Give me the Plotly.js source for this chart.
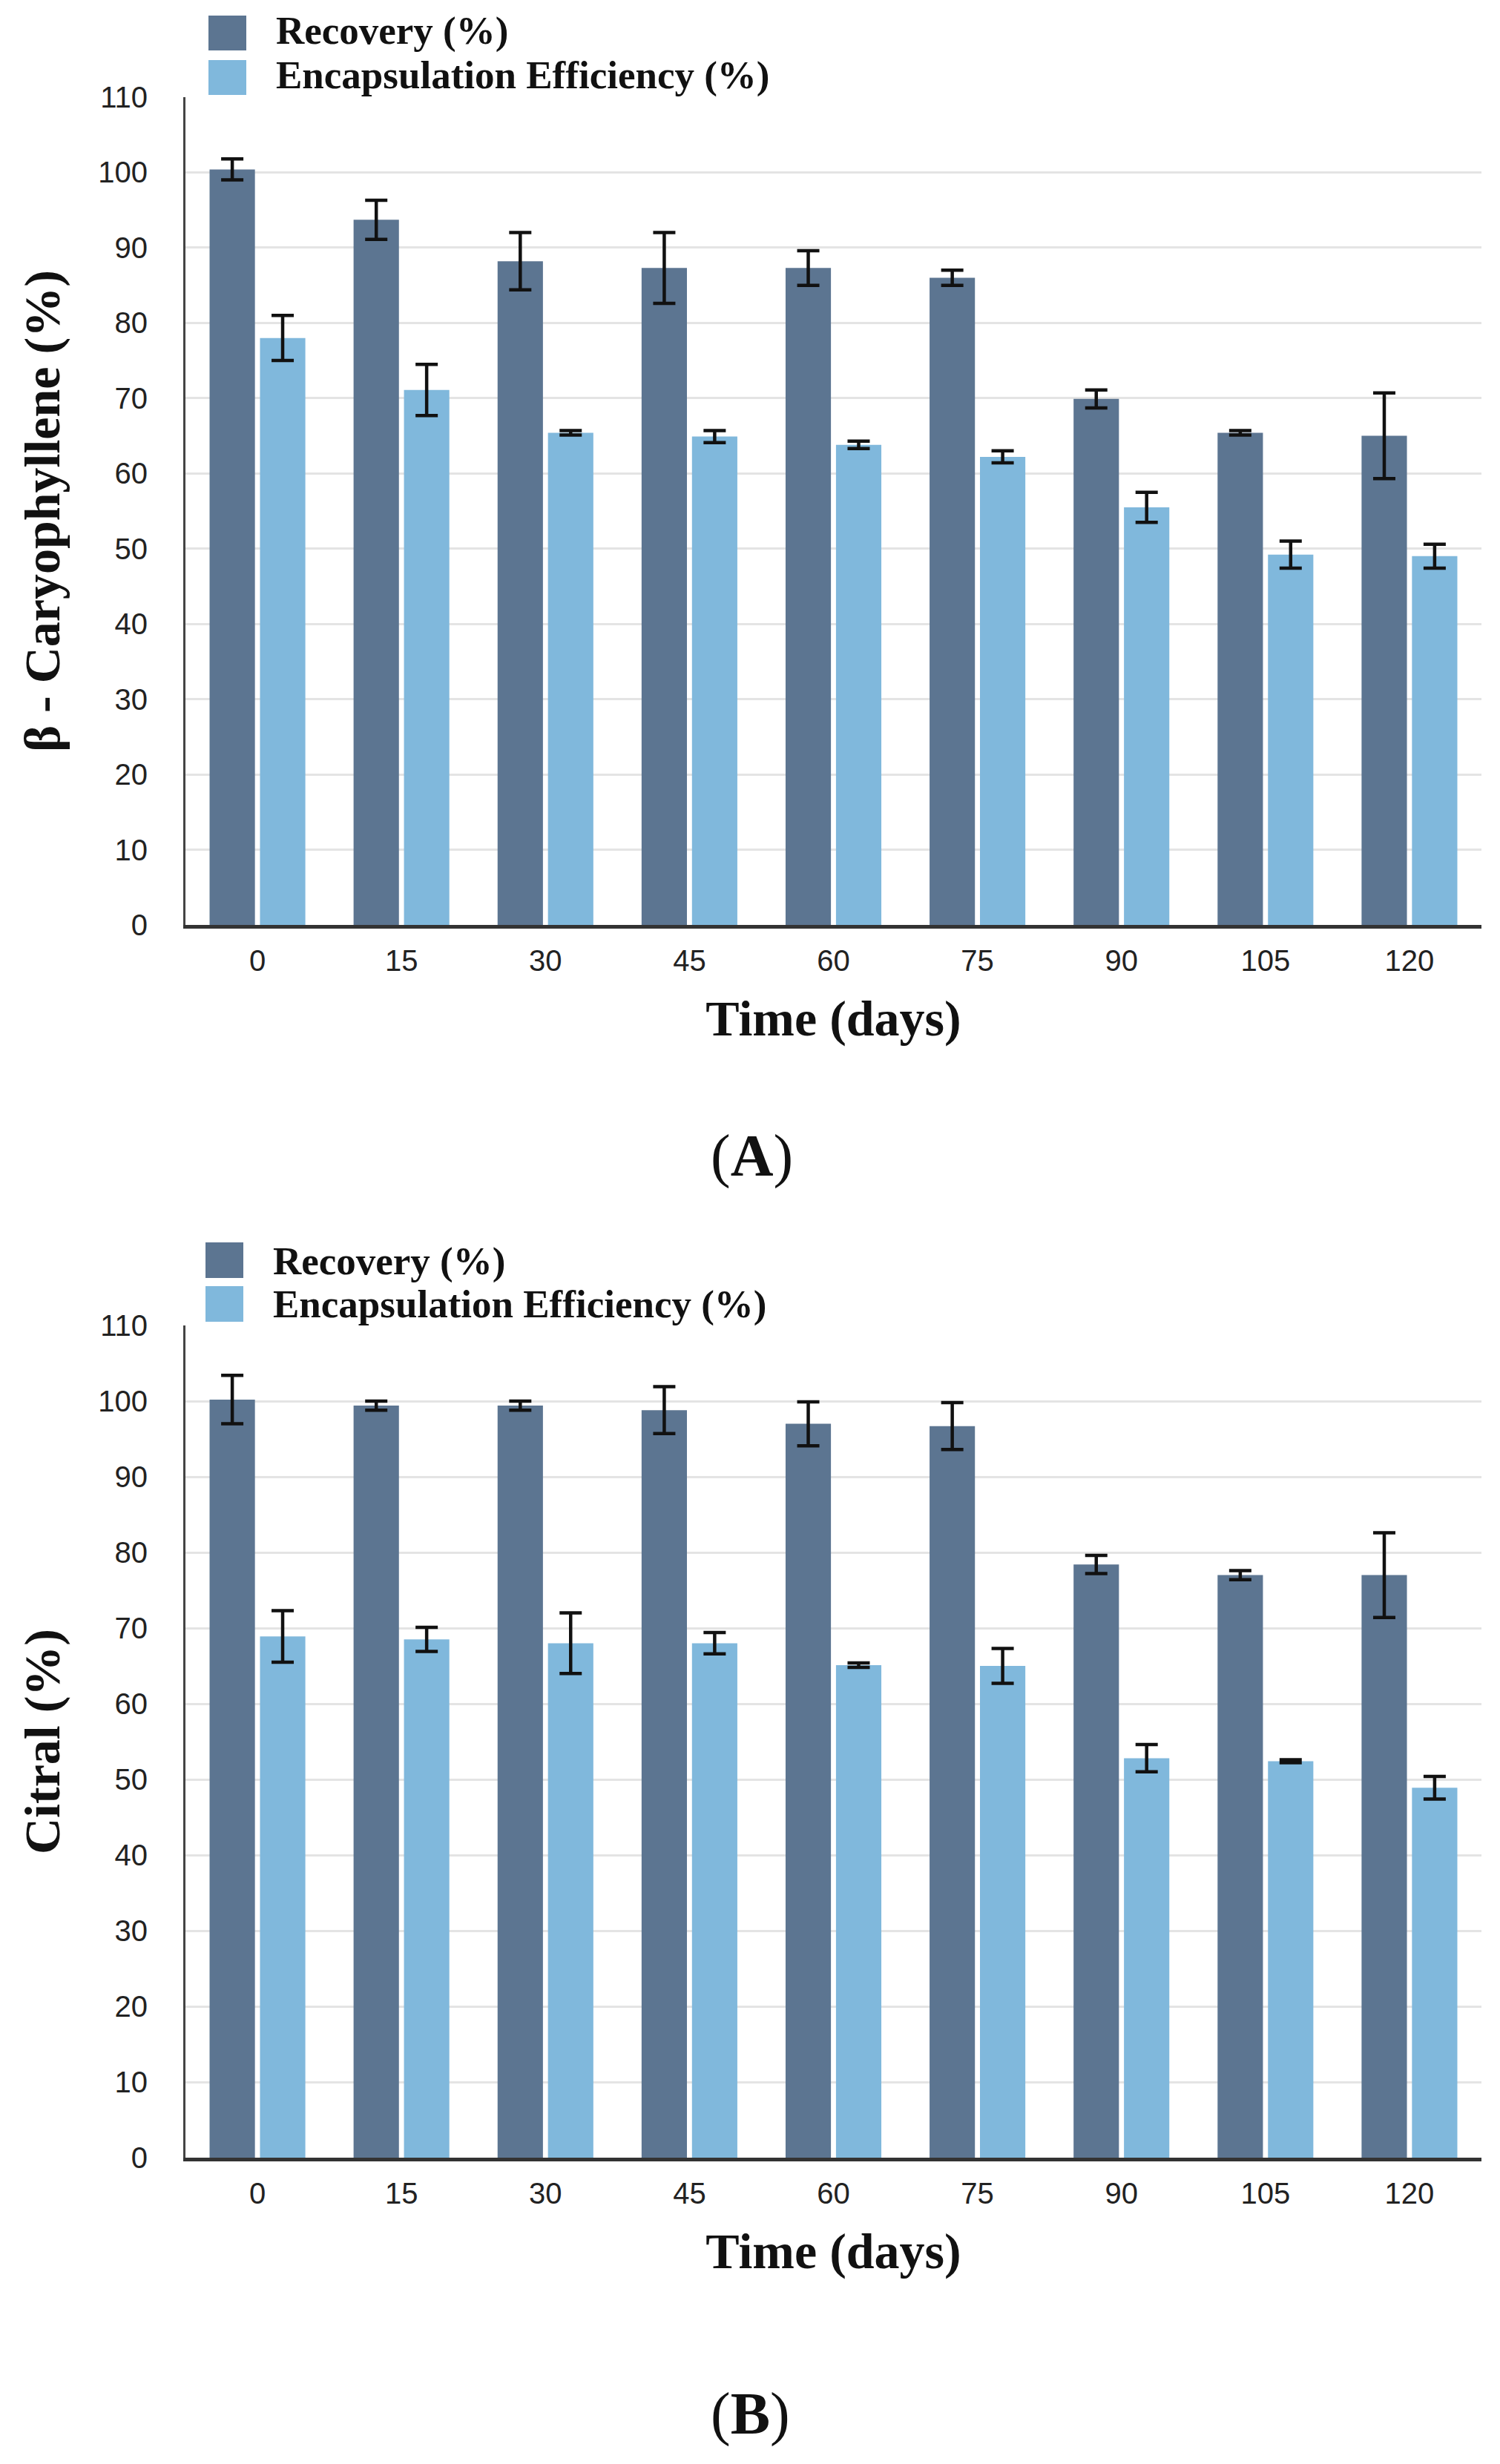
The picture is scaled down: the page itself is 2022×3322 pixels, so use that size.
<!DOCTYPE html>
<html><head><meta charset="utf-8">
<script src="https://cdn.plot.ly/plotly-3.0.1.min.js"></script>
<style>html,body{margin:0;padding:0;background:#fff}#chart{width:2022px;height:3322px}</style>
</head><body><div id="chart"></div><script>
// ---- data ----
const days = ['0','15','30','45','60','75','90','105','120'];
const seriesNames = ['Recovery (%)','Encapsulation Efficiency (%)'];
const seriesColors = ['#5c7591','#80b8dc'];
// Panel A: beta-caryophyllene
const caryRecovery    = [100.4, 93.7, 88.2, 87.3, 87.3, 86.0, 69.9, 65.4, 65.0];
const caryRecoveryErr = [1.4, 2.6, 3.8, 4.7, 2.3, 1.0, 1.2, 0.3, 5.7];
const caryEE          = [78.0, 71.1, 65.4, 64.9, 63.8, 62.2, 55.5, 49.2, 49.0];
const caryEEErr       = [3.0, 3.4, 0.3, 0.8, 0.5, 0.8, 2.0, 1.8, 1.6];
// Panel B: citral
const citralRecovery    = [100.2, 99.4, 99.4, 98.8, 97.0, 96.7, 78.4, 77.0, 77.0];
const citralRecoveryErr = [3.2, 0.6, 0.6, 3.1, 2.9, 3.1, 1.2, 0.6, 5.6];
const citralEE          = [68.9, 68.5, 68.0, 68.0, 65.1, 65.0, 52.8, 52.4, 48.9];
const citralEEErr       = [3.4, 1.6, 4.0, 1.4, 0.3, 2.3, 1.8, 0.2, 1.5];
const yTitles = ['β - Caryophyllene (%)', 'Citral (%)'];
const xTitle = 'Time (days)';
const panelLabels = ['A', 'B'];

// ---- layout helpers ----
const W = 2022, H = 3322, L = 250, R = 1997;
const px = x => (x - L) / (R - L);
const py = y => 1 - y / H;
const serif = 'Liberation Serif, Times New Roman, serif';
const sans = 'Liberation Sans, Arial, sans-serif';
const tickFont = {family: sans, size: 40, color: '#222'};
const titleFont = {family: serif, size: 68, weight: 700, color: '#111'};

function barTrace(vals, errs, idx, ax) {
  return {
    type: 'bar', x: days, y: vals, name: seriesNames[idx],
    marker: {color: seriesColors[idx], line: {width: 0}},
    error_y: {type: 'data', array: errs, visible: true, color: '#111', thickness: 4.5, width: 15},
    xaxis: 'x' + ax, yaxis: 'y' + ax, showlegend: false, hoverinfo: 'y'
  };
}

const data = [
  barTrace(caryRecovery, caryRecoveryErr, 0, ''),
  barTrace(caryEE, caryEEErr, 1, ''),
  barTrace(citralRecovery, citralRecoveryErr, 0, '2'),
  barTrace(citralEE, citralEEErr, 1, '2')
];

function xAxis(anchor) {
  return {
    anchor: anchor, domain: [0, 1], type: 'category', range: [-0.5, 8.5],
    showline: true, linecolor: '#333', linewidth: 5, ticks: '', ticklabelstandoff: 9,
    tickfont: tickFont, showgrid: false, zeroline: false, automargin: false,
    title: {text: xTitle, font: titleFont, standoff: 34}
  };
}
function yAxis(anchor, domain, title) {
  return {
    anchor: anchor, domain: domain, range: [0, 110], dtick: 10, tick0: 0,
    showgrid: true, gridcolor: '#e4e4e4', gridwidth: 3,
    showline: true, linecolor: '#444', linewidth: 3, ticks: '', ticklabelstandoff: 40,
    tickfont: tickFont, zeroline: false, automargin: false,
    title: {text: title, font: titleFont, standoff: 30}
  };
}

// legend (shapes + text), built from the series names/colours
const legendSpecs = [
  {sqX: [281, 332], rows: [[21, 68, 42], [81, 128, 101]], textX: 370},
  {sqX: [277, 328], rows: [[1675, 1723, 1700], [1734, 1782, 1759]], textX: 366}
];
const shapes = [], annotations = [];
legendSpecs.forEach(sp => {
  sp.rows.forEach((r, i) => {
    shapes.push({type: 'rect', xref: 'paper', yref: 'paper',
      x0: px(sp.sqX[0]), x1: px(sp.sqX[1]), y0: py(r[1]), y1: py(r[0]),
      fillcolor: seriesColors[i], line: {width: 0}});
    annotations.push({xref: 'paper', yref: 'paper', x: px(sp.textX), y: py(r[2]),
      xanchor: 'left', yanchor: 'middle', showarrow: false, text: seriesNames[i],
      font: {family: serif, size: 53, weight: 700, color: '#111'}});
  });
});
[[1013, 1558], [1011, 3254]].forEach((p, i) => {
  annotations.push({xref: 'paper', yref: 'paper', x: px(p[0]), y: py(p[1]),
    xanchor: 'center', yanchor: 'middle', showarrow: false,
    text: '(<b>' + panelLabels[i] + '</b>)',
    font: {family: serif, size: 80, color: '#111'}});
});

const layout = {
  width: W, height: H, paper_bgcolor: '#fff', plot_bgcolor: '#fff',
  margin: {l: L, r: W - R, t: 0, b: 0, pad: 0},
  barmode: 'group', bargap: 0.30, bargroupgap: 0.1,
  xaxis: xAxis('y'),
  yaxis: yAxis('x', [py(1247), py(131)], yTitles[0]),
  xaxis2: xAxis('y2'),
  yaxis2: yAxis('x2', [py(2909), py(1787)], yTitles[1]),
  shapes: shapes, annotations: annotations, showlegend: false
};

Plotly.newPlot('chart', data, layout, {staticPlot: true, displayModeBar: false});
</script></body></html>
